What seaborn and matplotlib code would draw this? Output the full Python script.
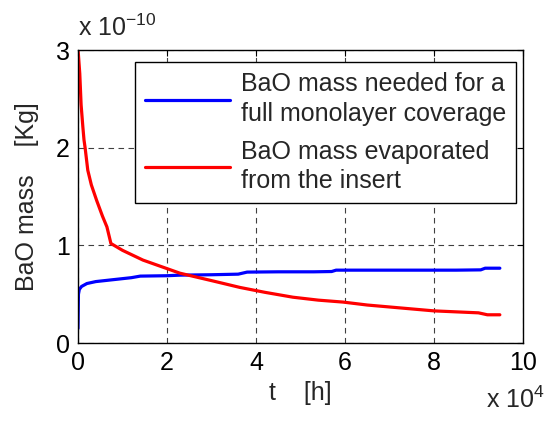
import numpy as np
import pandas as pd
import matplotlib
matplotlib.use("Agg")
import matplotlib.pyplot as plt
import seaborn as sns

# time in units of 1e4 h, mass in units of 1e-10 kg
t_needed = [0.0, 0.01, 0.03, 0.08, 0.2, 0.4, 0.8, 1.2, 1.4, 2.0, 2.3, 3.0, 3.6, 3.8, 4.5, 5.3, 5.7, 5.8, 6.5, 7.5, 8.5, 9.05, 9.15, 9.48]
m_needed = [0.15, 0.50, 0.55, 0.58, 0.61, 0.63, 0.65, 0.67, 0.686, 0.69, 0.696, 0.70, 0.706, 0.727, 0.73, 0.73, 0.733, 0.747, 0.747, 0.747, 0.747, 0.750, 0.767, 0.767]

t_evap = [0.0, 0.01, 0.04, 0.07, 0.11, 0.135, 0.16, 0.22, 0.3, 0.42, 0.55, 0.65, 0.74, 1.0, 1.46, 2.29, 3.0, 3.64, 4.2, 4.83, 5.4, 5.96, 6.5, 7.0, 7.5, 8.0, 8.5, 9.0, 9.2, 9.48]
m_evap = [3.0, 2.95, 2.76, 2.44, 2.21, 2.08, 2.0, 1.77, 1.62, 1.46, 1.3, 1.19, 1.02, 0.95, 0.85, 0.716, 0.64, 0.57, 0.52, 0.47, 0.44, 0.42, 0.39, 0.37, 0.35, 0.33, 0.32, 0.31, 0.29, 0.29]

labels = ["BaO mass needed for a\nfull monolayer coverage", "BaO mass evaporated\nfrom the insert"]
x_ticks = [0, 2, 4, 6, 8, 10]
y_ticks = [0, 1, 2, 3]

df = pd.concat([
    pd.DataFrame({"t": t_needed, "m": m_needed, "series": labels[0]}),
    pd.DataFrame({"t": t_evap, "m": m_evap, "series": labels[1]}),
])

sns.set_style("white")
plt.rcParams['font.family'] = ['Liberation Sans', 'DejaVu Sans']
plt.rcParams['mathtext.default'] = 'regular'
plt.rcParams['text.antialiased'] = True

fig = plt.figure(figsize=(5.5, 4.21), dpi=100)
ax = fig.add_axes([0.1418, 0.185, 0.8091, 0.696])

sns.lineplot(data=df, x="t", y="m", hue="series", palette=["#0000ff", "#ff0000"],
             linewidth=2.3, ax=ax, sort=False, estimator=None)

ax.set_xlim(0, 10)
ax.set_ylim(0, 3)
ax.set_xticks(x_ticks)
ax.set_yticks(y_ticks)
ax.tick_params(direction="in", length=4, width=0.8, labelsize=18, top=True, right=True,
               colors="black", pad=6)
for s in ax.spines.values():
    s.set_color("black")
    s.set_linewidth(1.0)
ax.grid(True, color="#404040", linestyle=(0, (5, 4)), linewidth=0.8)

ax.set_xlabel("t    [h]", fontsize=18, labelpad=4)
ax.set_ylabel("BaO mass    [Kg]", fontsize=18, labelpad=12)

ax.text(0.0, 1.03, r"x $10^{-10}$", transform=ax.transAxes, fontsize=18, ha="left", va="bottom")
ax.text(1.049, -0.238, r"x $10^{4}$", transform=ax.transAxes, fontsize=18, ha="right", va="bottom")

leg = ax.legend(loc="upper right", bbox_to_anchor=(0.985, 0.959), fontsize=18,
                frameon=True, fancybox=False, edgecolor="black", handlelength=3.4,
                labelspacing=0.55, borderpad=0.4, handletextpad=0.45, borderaxespad=0)
leg.get_frame().set_linewidth(1.0)
leg.get_frame().set_alpha(1)
for line in leg.get_lines():
    line.set_linewidth(2.3)
for txt in leg.get_texts():
    txt.set_linespacing(1.3)

fig.savefig("out.png", dpi=100)
